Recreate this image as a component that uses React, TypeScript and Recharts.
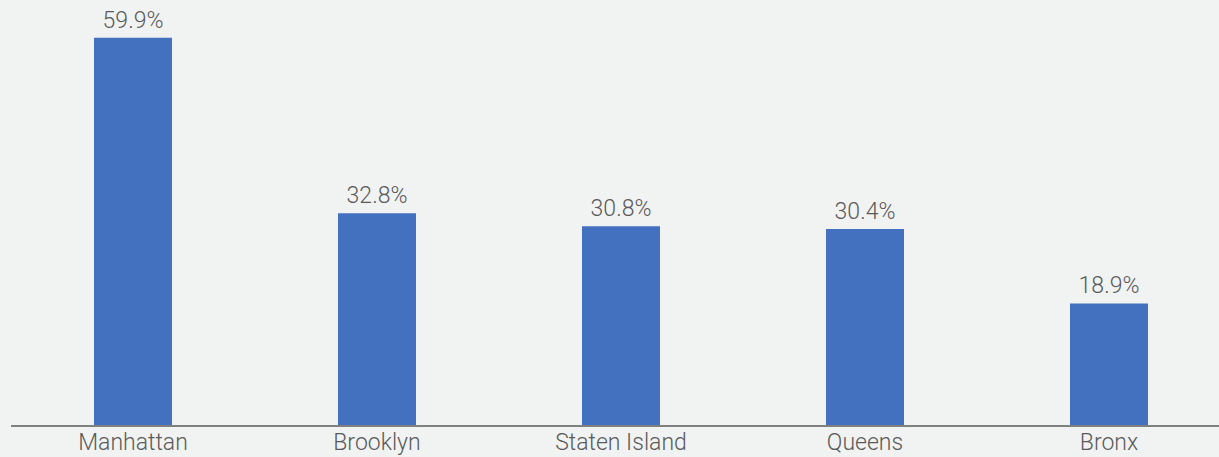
import { BarChart, Bar, XAxis, YAxis, LabelList } from "recharts"

const boroughs = ["Manhattan", "Brooklyn", "Staten Island", "Queens", "Bronx"]
const shares = [59.9, 32.8, 30.8, 30.4, 18.9]

const data = boroughs.map((name, i) => ({ name, value: shares[i] }))

const FONT = "Roboto, 'Liberation Sans', sans-serif"
const TEXT = "#5a5a5a"

export default function App() {
    return (
        <div style={{ position: "fixed", left: 0, top: 0, width: 1219, height: 457, overflow: "hidden", background: "#f1f3f3" }}>
            <BarChart width={1232} height={457} data={data} margin={{ top: 37, right: 1, bottom: 0, left: 11 }}>
                <XAxis
                    dataKey="name"
                    height={31}
                    tickLine={false}
                    axisLine={{ stroke: "#808080", strokeWidth: 2 }}
                    tick={{ fill: TEXT, fontSize: 23, fontFamily: FONT, fontWeight: 300 }}
                    interval={0}
                />
                <YAxis hide domain={[0, 60]} />
                <Bar dataKey="value" fill="#4470c0" barSize={78} isAnimationActive={false}>
                    <LabelList
                        dataKey="value"
                        position="top"
                        offset={10}
                        formatter={(v: any) => `${Number(v).toFixed(1)}%`}
                        style={{ fill: TEXT, fontSize: 23, fontFamily: FONT, fontWeight: 300 }}
                    />
                </Bar>
            </BarChart>
        </div>
    )
}
